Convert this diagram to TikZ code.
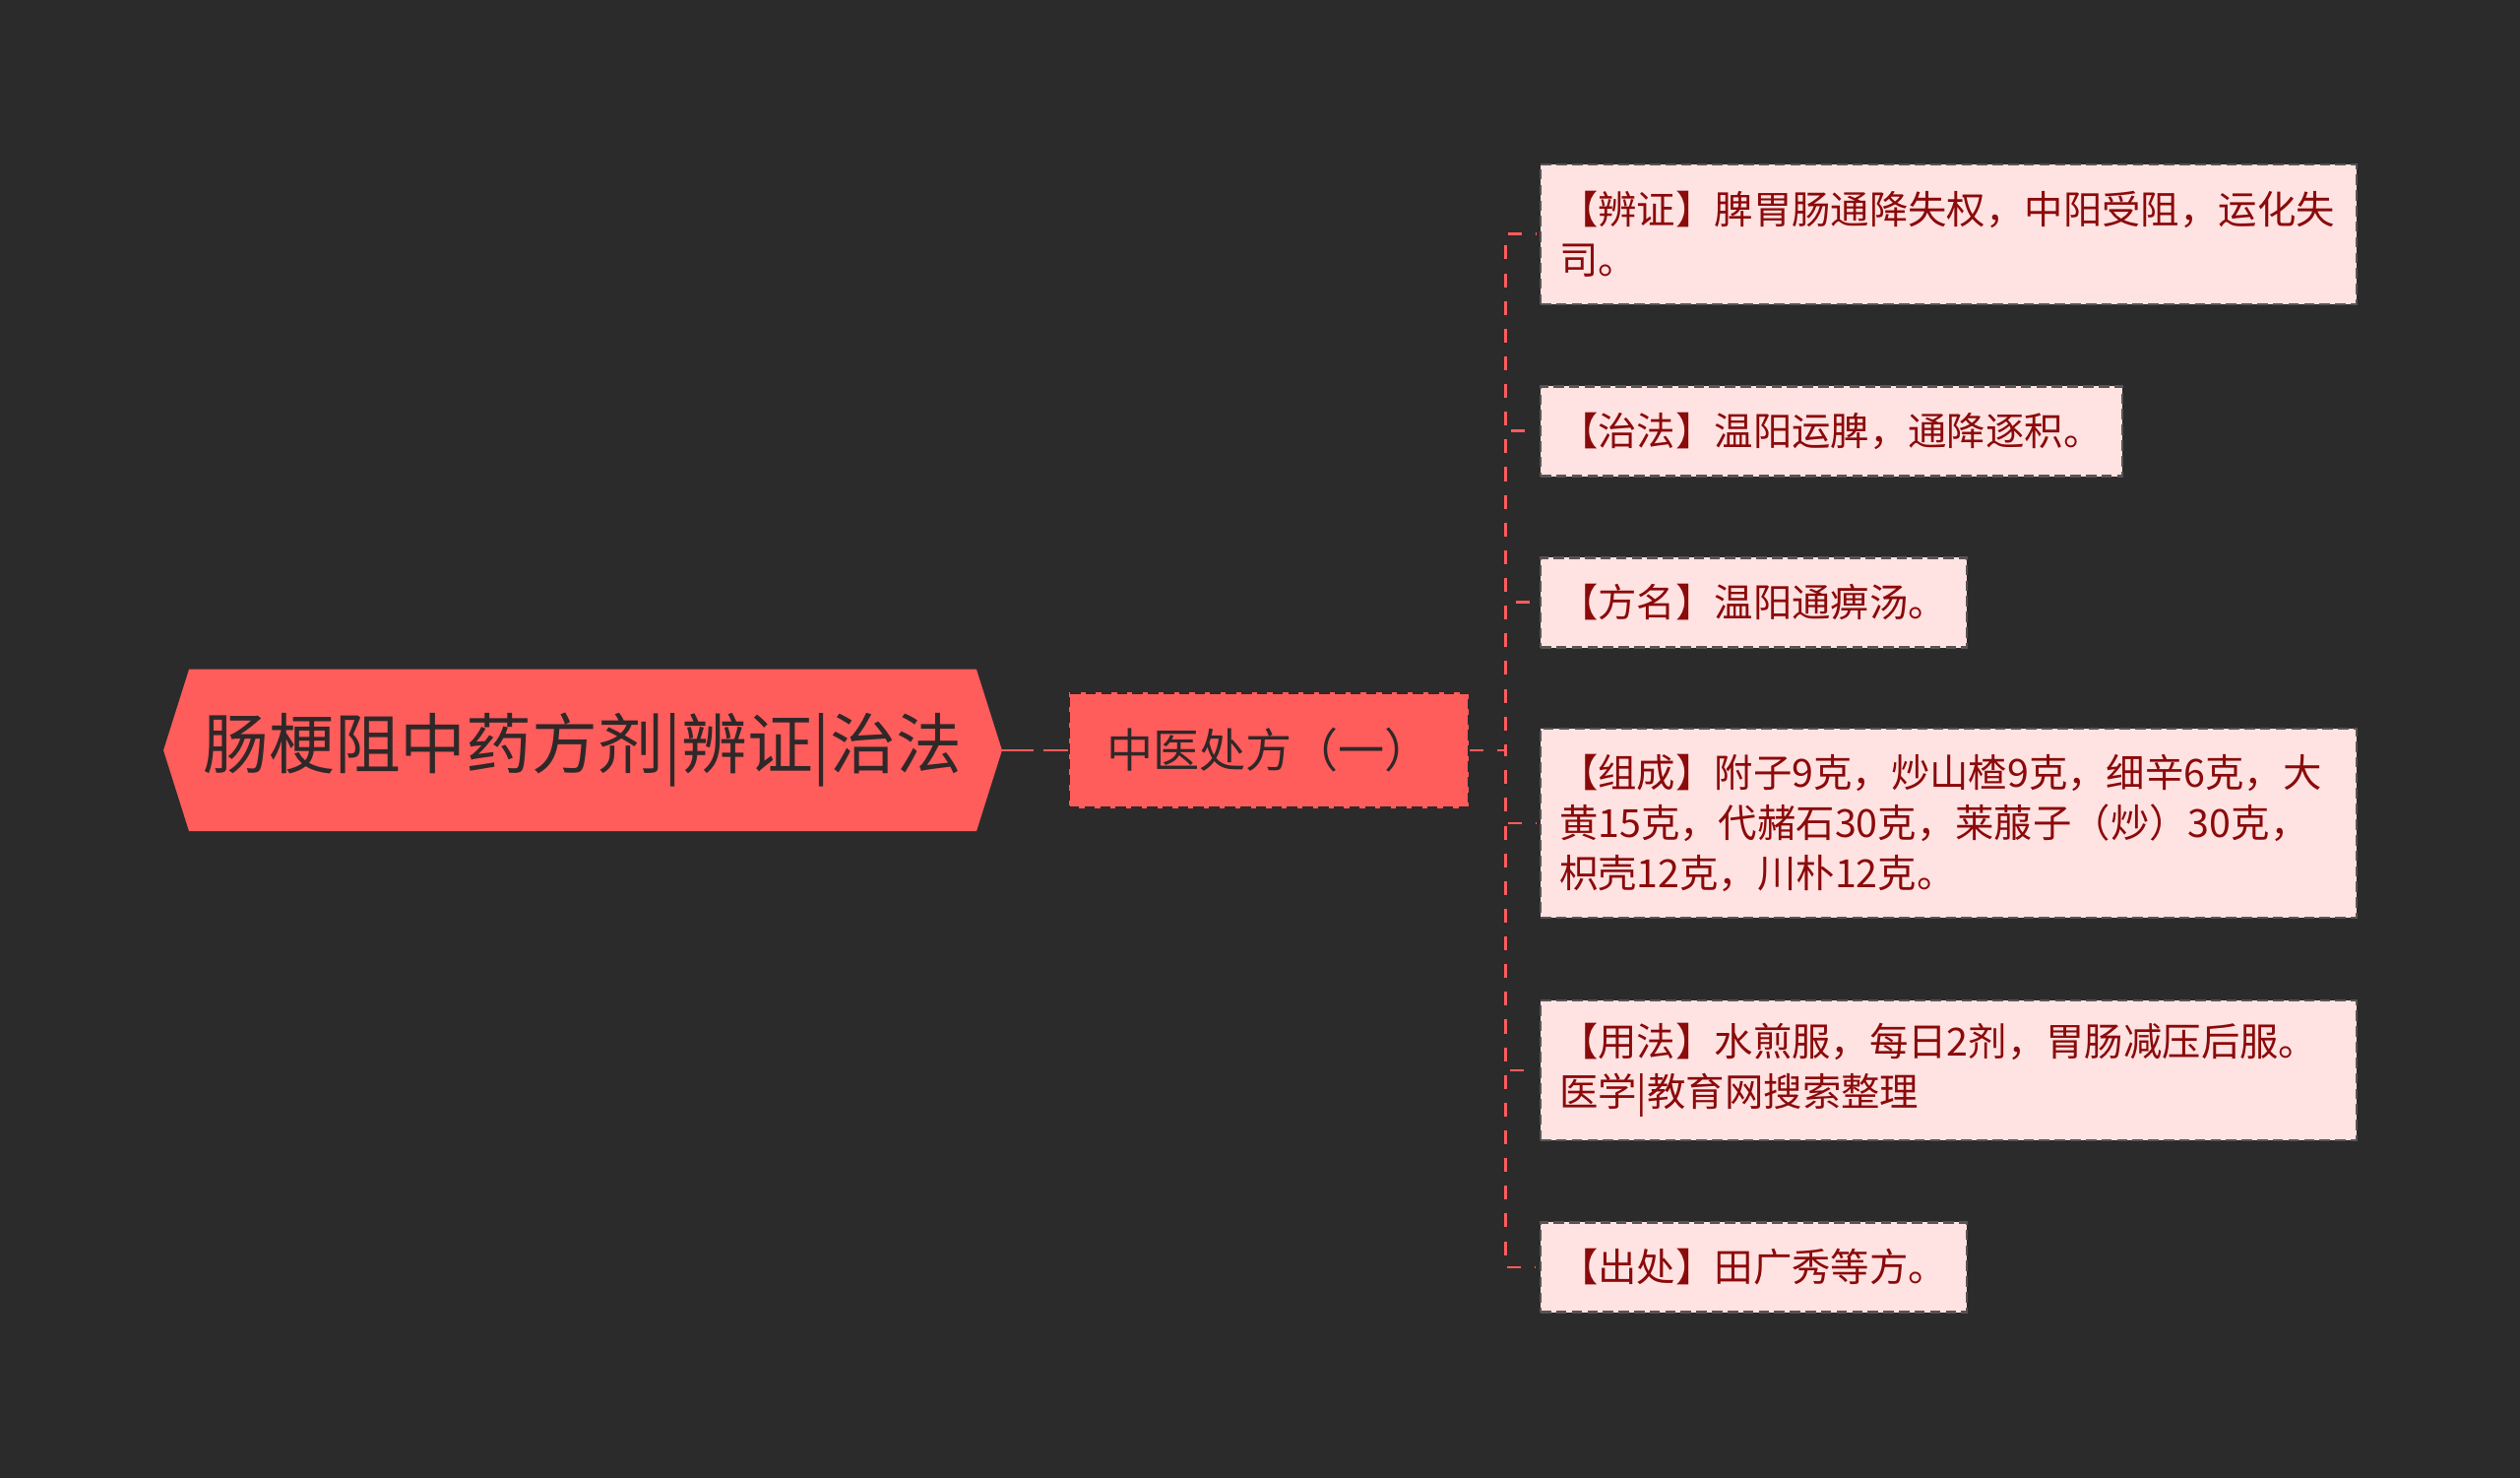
\documentclass[tikz,border=0pt]{standalone}
\usepackage{fontspec}
\newfontfamily\cjk{Noto Sans CJK SC}
\usetikzlibrary{backgrounds, calc}
\definecolor{bgdark}{RGB}{43,43,43}
\definecolor{rootred}{RGB}{255,92,92}
\definecolor{leafpink}{RGB}{255,226,226}
\definecolor{leaftext}{RGB}{139,10,10}
\definecolor{darktext}{RGB}{48,40,40}
\tikzset{
	link/.style={draw=rootred, line width=0.85pt, dash pattern=on 4pt off 4pt},
	boxdash/.style={dash pattern=on 3pt off 1.5pt, line width=0.6pt},
	rootbox/.style={minimum width=8.5cm, minimum height=1.63cm, inner sep=0pt,
		text=darktext, font=\cjk\fontsize{19pt}{23pt}\selectfont},
	subbox/.style={fill=rootred, draw=darktext, boxdash,
		minimum width=4.06cm, minimum height=1.17cm, inner sep=0pt,
		text=darktext, font=\cjk\fontsize{13.4pt}{16pt}\selectfont},
	leaf/.style={fill=leafpink, draw=darktext!80, boxdash,
		anchor=west, align=left, inner xsep=0.19cm, inner ysep=0pt,
		text=leaftext, font=\cjk\fontsize{11.2pt}{14.4pt}\selectfont}
}
\begin{document}
\begin{tikzpicture}[x=0.01cm, y=-0.01cm]
	\useasboundingbox (0,0) rectangle (2560,1501);
	\node[rootbox] (root) at (592,762) {肠梗阻中药方剂|辨证|治法};
	\node[subbox] (sub) at (1289,762) {中医处方（一）};
	\node[leaf, text width=7.9cm, minimum height=1.42cm] (bz) at (1564,238)
		{【辨证】脾胃肠通降失权，中阳受阻，运化失\\司。};
	\node[leaf, text width=5.53cm, minimum height=0.91cm] (zf) at (1564,438)
		{【治法】温阳运脾，通降逐积。};
	\node[leaf, text width=3.95cm, minimum height=0.91cm] (fm) at (1564,612)
		{【方名】温阳通痹汤。};
	\node[leaf, text width=7.9cm, minimum height=1.92cm] (zc) at (1564,836)
		{【组成】附子9克，炒山楂9克，细辛6克，大\\黄15克，代赭石30克，莱菔子（炒）30克，\\枳壳12克，川朴12克。};
	\node[leaf, text width=7.9cm, minimum height=1.42cm] (yf) at (1564,1087)
		{【用法】水煎服，每日2剂，胃肠减压后服。\\医学|教育网搜索整理};
	\node[leaf, text width=3.95cm, minimum height=0.91cm] (cc) at (1564,1287)
		{【出处】田广秀等方。};
	\begin{scope}[on background layer]
		\fill[bgdark] (0,0) rectangle (2560,1501);
		\fill[rootred] (root.west) -- ($(root.north west)+(26,0)$) -- ($(root.north east)+(-26,0)$)
			-- (root.east) -- ($(root.south east)+(-26,0)$) -- ($(root.south west)+(26,0)$) -- cycle;
	\end{scope}
	\draw[link, dash pattern=on 9pt off 3pt] (root.east) -- (sub.west);
	\foreach \n in {bz, zf, fm, zc, yf, cc}
		\draw[link] (sub.east) -- ++(36,0) |- ($(\n.west)+(-4,0)$);
\end{tikzpicture}
\end{document}
